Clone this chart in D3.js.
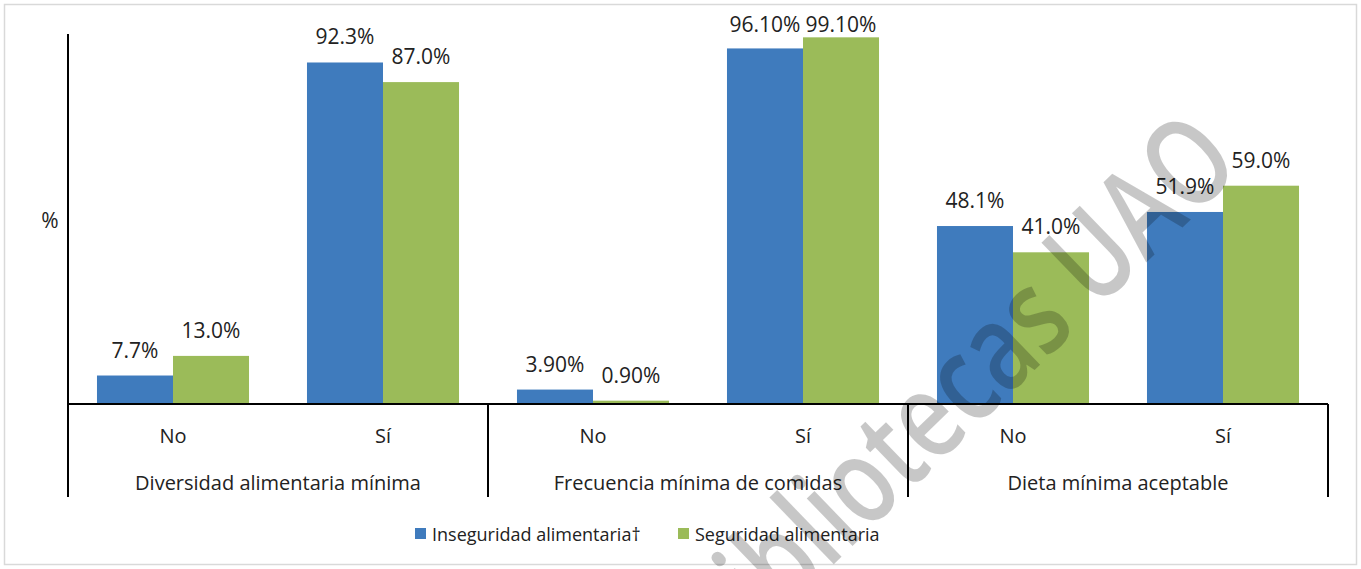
<!DOCTYPE html>
<html><head><meta charset="utf-8">
<script src="https://cdn.jsdelivr.net/npm/d3@7"></script>
<style>
html,body{margin:0;padding:0;background:#fff;}
svg{display:block;font-family:"Open Sans",Lato,sans-serif;}
</style></head>
<body>
<svg id="chart" width="1361" height="569"></svg>
<script>
const groups = ["Diversidad alimentaria mínima","Frecuencia mínima de comidas","Dieta mínima aceptable"];
const subcats = ["No","Sí"];
const groupDecimals = [1,2,1];
const seriesNames = ["Inseguridad alimentaria†","Seguridad alimentaria"];
const inseguridad = [7.7, 92.3, 3.9, 96.1, 48.1, 51.9];
const seguridad   = [13.0, 87.0, 0.9, 99.1, 41.0, 59.0];
const colors = ["#3f7bbd","#9bbb59"];

(function(){
const svg = d3.select("#chart");
const W = 1361, H = 569;
const pLeft = 68, pRight = 1328, pTop = 34, base = 404, bottomAxis = 497;

svg.append("rect").attr("x",4.5).attr("y",4.5).attr("width",W-9).attr("height",H-9)
  .attr("fill","#fff").attr("stroke","#d9d9d9").attr("stroke-width",1.5);

const cats = [];
groups.forEach((g,gi)=>subcats.forEach(s=>cats.push(gi+"|"+s)));

const x0 = d3.scaleBand().domain(cats).range([pLeft,pRight]).padding(0);
const x1 = d3.scaleBand().domain([0,1]).range([x0.bandwidth()*0.138, x0.bandwidth()*0.862]).padding(0);
const y = d3.scaleLinear().domain([0,100]).range([base,pTop]);

const data = [];
cats.forEach((c,i)=>{
  [inseguridad[i], seguridad[i]].forEach((v,si)=>{
    data.push({cat:c, gi:Math.floor(i/2), s:si, v});
  });
});

svg.append("g").selectAll("rect").data(data).join("rect")
  .attr("x",d=>x0(d.cat)+x1(d.s))
  .attr("width",x1.bandwidth())
  .attr("y",d=>y(d.v))
  .attr("height",d=>base-y(d.v))
  .attr("fill",d=>colors[d.s]);

svg.append("g").selectAll("text").data(data).join("text")
  .attr("x",d=>x0(d.cat)+x1(d.s)+x1.bandwidth()/2)
  .attr("y",d=>Math.max(y(d.v)-18, 32))
  .attr("text-anchor","middle")
  .attr("font-size",21)
  .attr("fill","#222")
  .text(d=>d.v.toFixed(groupDecimals[d.gi])+"%");

const ax = svg.append("g").attr("stroke","#000").attr("stroke-width",2);
ax.append("line").attr("x1",pLeft).attr("x2",pLeft).attr("y1",pTop).attr("y2",bottomAxis);
ax.append("line").attr("x1",pLeft).attr("x2",pRight).attr("y1",base).attr("y2",base);
groups.forEach((g,gi)=>{
  const xe = x0(gi+"|"+subcats[1])+x0.bandwidth();
  ax.append("line").attr("x1",xe).attr("x2",xe).attr("y1",base).attr("y2",bottomAxis);
});

svg.append("g").selectAll("text").data(cats).join("text")
  .attr("x",c=>x0(c)+x0.bandwidth()/2)
  .attr("y",443)
  .attr("text-anchor","middle")
  .attr("font-size",20)
  .attr("fill","#222")
  .text(c=>c.split("|")[1]);

svg.append("g").selectAll("text").data(groups).join("text")
  .attr("x",(g,gi)=>x0(gi+"|"+subcats[0])+x0.bandwidth())
  .attr("y",490)
  .attr("text-anchor","middle")
  .attr("font-size",20)
  .attr("fill","#222")
  .text(g=>g);

svg.append("text").attr("x",50).attr("y",228).attr("text-anchor","middle")
  .attr("font-size",21).attr("fill","#222").text("%");

const legX = [415, 678];
seriesNames.forEach((n,i)=>{
  svg.append("rect").attr("x",legX[i]).attr("y",528).attr("width",11).attr("height",11).attr("fill",colors[i]);
  svg.append("text").attr("x",legX[i]+17).attr("y",541).attr("font-size",18).attr("fill","#222").text(n);
});

svg.append("text")
  .attr("transform","translate(1244,168) rotate(-44) scale(0.77,1)")
  .attr("text-anchor","end")
  .attr("font-size",122)
  .attr("font-weight",600)
  .attr("fill","#000").attr("fill-opacity",0.22)
  .text("Bibliotecas UAO");
})();
</script>
</body></html>
